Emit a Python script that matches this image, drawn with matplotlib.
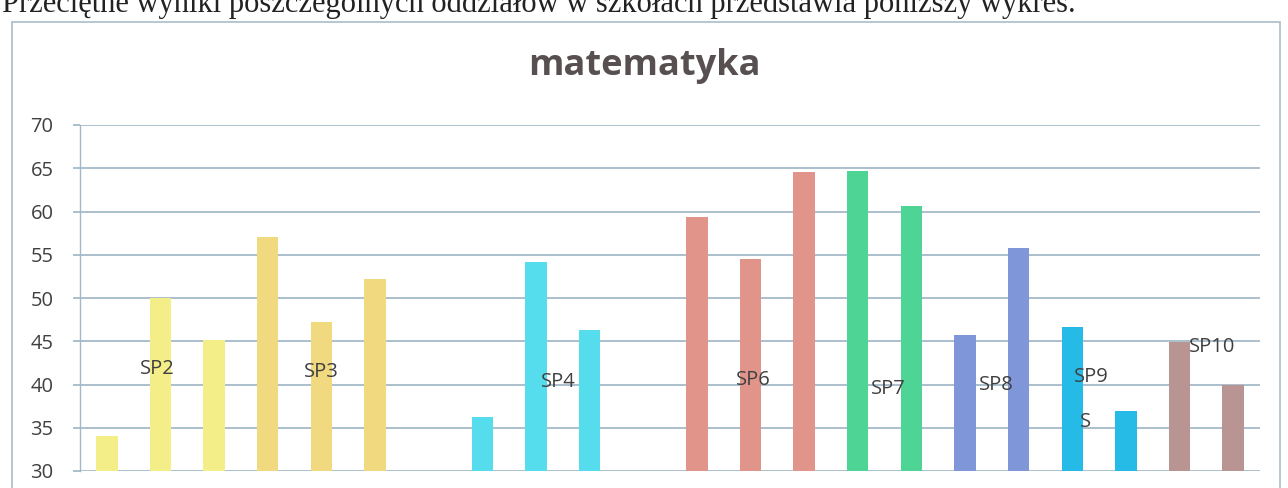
import matplotlib
matplotlib.use("Agg")
import matplotlib.pyplot as plt
from matplotlib.patches import Rectangle

# ---- data ----
slots = [0, 1, 2, 3, 4, 5, 7, 8, 9, 11, 12, 13, 14, 15, 16, 17, 18, 19, 20, 21]
values = [34, 50, 45.1, 57, 47.2, 52.2, 36.2, 54.2, 46.3, 59.4, 54.5, 64.6, 64.7,
          60.6, 45.7, 55.8, 46.7, 36.9, 44.9, 39.9]
groups = ["SP2", "SP2", "SP2", "SP3", "SP3", "SP3", "SP4", "SP4", "SP4",
          "SP6", "SP6", "SP6", "SP7", "SP7", "SP8", "SP8", "SP9", "SP9", "SP10", "SP10"]
group_colors = {"SP2": "#F3EE88", "SP3": "#F0D97E", "SP4": "#55DDEE", "SP6": "#E1958A",
                "SP7": "#4ED596", "SP8": "#7F97D8", "SP9": "#25BBE6", "SP10": "#B89592"}
label_texts = ["SP2", "SP3", "SP4", "SP6", "SP7", "SP8", "SP9", "S", "SP10"]
label_x = [0.95, 4.0, 8.41, 12.05, 14.57, 16.59, 18.36, 18.25, 20.6]
label_y = [41.8, 41.4, 40.3, 40.5, 39.5, 39.9, 40.9, 35.7, 44.3]
yticks = [30, 35, 40, 45, 50, 55, 60, 65, 70]
title = "matematyka"
header = "Przeciętne wyniki poszczególnych oddziałów w szkołach przedstawia poniższy wykres."

W, H = 1288, 488
fig = plt.figure(figsize=(W / 100, H / 100), dpi=100)
fig.patch.set_facecolor("white")

# chart border box
fig.patches.append(Rectangle((12 / W, -0.1), (1280 - 12) / W, 1 - 22 / H + 0.1,
                             transform=fig.transFigure, fill=False,
                             edgecolor="#A9BDCA", linewidth=1.2))

ax = fig.add_axes([80 / W, 1 - 471 / H, (1260 - 80) / W, (471 - 125) / H])
ax.set_facecolor("none")
colors = [group_colors[g] for g in groups]
ax.bar(slots, values, width=0.4, bottom=0, color=colors, zorder=3)

ax.set_xlim(-0.5, 21.5)
ax.set_ylim(30, 70)
ax.set_yticks(yticks)
ax.set_xticks([])
ax.grid(axis="y", color="#93ADBE", linewidth=1.1, zorder=0)
for s in ["top", "right", "bottom"]:
    ax.spines[s].set_visible(False)
ax.spines["left"].set_color("#A3B8C6")
ax.spines["left"].set_linewidth(1.0)
ax.tick_params(axis="y", length=5, width=1.1, color="#93ADBE", pad=14,
               labelsize=14.5, labelcolor="#404040")
for lab in ax.get_yticklabels():
    lab.set_fontfamily("Open Sans")

for t, x, y in zip(label_texts, label_x, label_y):
    ax.text(x, y, t, ha="center", va="center", fontsize=14.5, color="#404040",
            family="Open Sans", zorder=4)

fig.text(644 / W, 1 - 75 / H, title, ha="center", va="baseline", fontsize=26,
         fontweight="bold", color="#585050", family="Open Sans")
fig.text(2 / W, 1 - 12 / H, header, ha="left", va="baseline", fontsize=22,
         color="#222222", family="Liberation Serif")

fig.savefig("out.png", dpi=100, facecolor="white")
